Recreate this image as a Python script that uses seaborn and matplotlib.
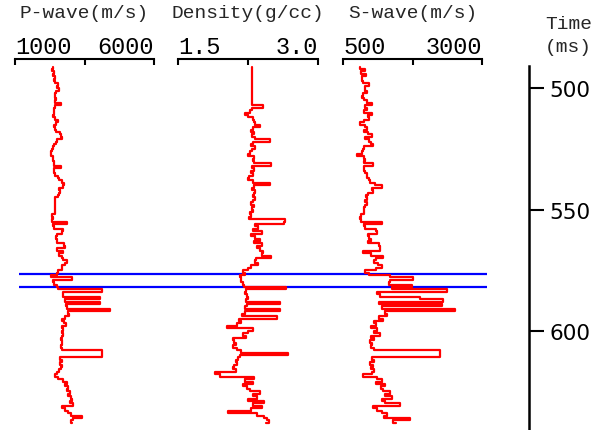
import numpy as np
import pandas as pd
import matplotlib
matplotlib.use("Agg")
import matplotlib.pyplot as plt
import seaborn as sns

# ---------------- data ----------------
time_ms = np.arange(491, 639)  # 1 ms sampling, 491..638

p_wave = [
    2380, 2330, 2400, 2350, 2440, 2400, 2450, 2560, 2520, 2600,
    2480, 2450, 2440, 2460, 2430, 2670, 2450, 2400, 2420, 2400,
    2380, 2450, 2560, 2470, 2420, 2450, 2480, 2620, 2660, 2680,
    2500, 2470, 2400, 2360, 2340, 2300, 2280, 2350, 2380, 2400,
    2390, 2660, 2420, 2400, 2450, 2550, 2600, 2680, 2760, 2740,
    2600, 2620, 2580, 2560, 2440, 2440, 2440, 2440, 2440, 2440,
    2440, 2330, 2370, 2330, 2860, 2380, 2400, 2740, 2700, 2500,
    2480, 2520, 2500, 2780, 2800, 2500, 2740, 2600, 2680, 2740,
    2860, 2800, 2680, 2700, 2560, 2500, 2300, 3040, 2380, 2400,
    2500, 2560, 4120, 2740, 2740, 4060, 2800, 4060, 2820, 2860,
    4420, 2920, 2950, 2800, 2700, 2760, 2850, 2700, 2740, 2680,
    2720, 2680, 2650, 2700, 2680, 2650, 2680, 4120, 4120, 4120,
    2620, 2680, 2620, 2700, 2660, 2600, 2520, 2450, 2560, 2740,
    2860, 2800, 2920, 2860, 2980, 2900, 3000, 3040, 2980, 3100,
    2700, 2800, 2900, 3000, 3400, 3100, 3000, 3050,
]

density = [
    2.29, 2.29, 2.29, 2.29, 2.29, 2.29, 2.29, 2.29, 2.29, 2.29,
    2.29, 2.29, 2.29, 2.29, 2.29, 2.29, 2.41, 2.29, 2.27, 2.22,
    2.25, 2.30, 2.31, 2.32, 2.38, 2.30, 2.28, 2.31, 2.29, 2.32,
    2.49, 2.30, 2.28, 2.32, 2.29, 2.27, 2.25, 2.31, 2.30, 2.31,
    2.50, 2.29, 2.31, 2.28, 2.30, 2.26, 2.25, 2.30, 2.49, 2.31,
    2.29, 2.33, 2.31, 2.30, 2.32, 2.30, 2.28, 2.31, 2.29, 2.30,
    2.27, 2.28, 2.26, 2.65, 2.64, 2.33, 2.36, 2.30, 2.40, 2.28,
    2.33, 2.38, 2.31, 2.40, 2.35, 2.38, 2.41, 2.40, 2.50, 2.34,
    2.32, 2.36, 2.28, 2.25, 2.20, 2.22, 2.16, 2.17, 2.18, 2.20,
    2.21, 2.66, 2.23, 2.22, 2.24, 2.25, 2.23, 2.59, 2.24, 2.22,
    2.59, 2.22, 2.19, 2.56, 2.15, 2.18, 2.13, 2.02, 2.30, 2.25,
    2.20, 2.23, 2.09, 2.10, 2.12, 2.09, 2.13, 2.18, 2.68, 2.16,
    2.14, 2.12, 2.13, 2.10, 2.09, 2.12, 1.90, 1.95, 2.31, 2.22,
    2.30, 2.20, 2.24, 2.27, 2.38, 2.30, 2.35, 2.25, 2.42, 2.30,
    2.40, 2.28, 2.04, 2.35, 2.42, 2.45, 2.48, 2.44,
]

s_wave = [
    806, 900, 830, 910, 836, 836, 866, 970, 900, 890,
    926, 860, 850, 880, 940, 1016, 900, 930, 880, 1016,
    950, 960, 870, 806, 900, 926, 870, 950, 1016, 900,
    960, 1000, 1046, 880, 860, 840, 760, 880, 900, 880,
    1046, 880, 870, 900, 930, 940, 970, 980, 1080, 1196,
    1020, 1040, 950, 920, 940, 900, 930, 900, 880, 870,
    880, 820, 800, 830, 1196, 880, 900, 1100, 1120, 950,
    960, 1010, 950, 1150, 1160, 1160, 866, 1000, 1226, 1100,
    1050, 1136, 1196, 1100, 896, 960, 1345, 1765, 1345, 1320,
    1735, 1380, 2365, 1106, 1166, 1885, 2305, 1140, 2280, 1200,
    2514, 1250, 1285, 1150, 1226, 1050, 1100, 1000, 1120, 1060,
    1166, 1000, 1050, 986, 1030, 1000, 1050, 2245, 2245, 2245,
    1020, 1050, 986, 1040, 1000, 1060, 1020, 866, 1106, 1200,
    1100, 1260, 1180, 1226, 1345, 1250, 1375, 1200, 1250, 1525,
    1046, 1106, 1200, 1285, 1230, 1705, 1400, 1450,
]

track_titles = ["P-wave(m/s)", "Density(g/cc)", "S-wave(m/s)"]
track_limits = [(1000, 6000), (1.5, 3.0), (500, 3000)]
track_ticklabels = [["1000", "", "6000"], ["1.5", "", "3.0"], ["500", "", "3000"]]
marker_times = [576.6, 582.1]
time_ticks = [500, 550, 600]
time_ticklabels = ["500", "550", "600"]

# ---------------- style ----------------
sns.set_style("white")
plt.rcParams["font.family"] = ["Liberation Mono", "DejaVu Sans"]

W, H = 606, 431
fig = plt.figure(figsize=(W / 100, H / 100), dpi=100)
y_top, y_bot = 487.9, 640.97
top_px = 60
h = 1 - top_px / H


def px_axes(x0, x1):
    return fig.add_axes([x0 / W, 0, (x1 - x0) / W, h])


# blue horizon markers spanning the three tracks
ov = px_axes(19, 487)
ov.set_ylim(y_bot, y_top)
ov.set_xlim(0, 1)
for t in marker_times:
    ov.axhline(t, color="#0000ff", lw=1.6)
ov.axis("off")
ov.set_zorder(0)

tracks_px = [(15, 154), (178, 318), (343, 482)]
series = [p_wave, density, s_wave]
for (x0, x1), vals, title, lim, labels in zip(tracks_px, series, track_titles,
                                               track_limits, track_ticklabels):
    ax = px_axes(x0, x1)
    ax.set_zorder(1)
    ax.patch.set_visible(False)
    df = pd.DataFrame({"value": vals, "time": time_ms})
    sns.lineplot(data=df, x="value", y="time", orient="y", sort=False,
                 estimator=None, drawstyle="steps-pre", color="#ff0000",
                 lw=1.6, ax=ax, legend=False)
    ax.set_xlim(lim)
    ax.set_ylim(y_bot, y_top)
    mid = (lim[0] + lim[1]) / 2
    ax.set_xticks([lim[0], mid, lim[1]], labels, fontsize=17)
    ax.xaxis.tick_top()
    ax.tick_params(axis="x", direction="in", length=4.5, width=1.5, pad=1,
                   color="black", labelcolor="black")
    for lab, ha in zip(ax.get_xticklabels(), ["left", "center", "right"]):
        lab.set_horizontalalignment(ha)
    for s in ["left", "right", "bottom"]:
        ax.spines[s].set_visible(False)
    ax.spines["top"].set_linewidth(1.5)
    ax.spines["top"].set_color("black")
    ax.set_yticks([])
    ax.set_xlabel("")
    ax.set_ylabel("")
    fig.text((x0 + x1) / 2 / W, 1 - 18.3 / H, title, ha="center",
             va="baseline", fontsize=14)

# time axis
tax = px_axes(500, 529)
tax.set_ylim(y_bot, y_top)
tax.patch.set_visible(False)
for s in ["left", "top", "bottom"]:
    tax.spines[s].set_visible(False)
tax.spines["right"].set_bounds(490.7, y_bot)
tax.spines["right"].set_linewidth(1.8)
tax.spines["right"].set_color("black")
tax.yaxis.tick_right()
tax.set_yticks(time_ticks, time_ticklabels, fontsize=15.5, family="DejaVu Sans")
tax.tick_params(axis="y", direction="out", length=11, width=1.5, pad=3.5,
                color="black", labelcolor="black")
tax.set_xticks([])
fig.text(568.5 / W, 1 - 29 / H, "Time", ha="center", va="baseline", fontsize=14)
fig.text(568.5 / W, 1 - 52 / H, "(ms)", ha="center", va="baseline", fontsize=14)

fig.savefig("out.png", dpi=100)
